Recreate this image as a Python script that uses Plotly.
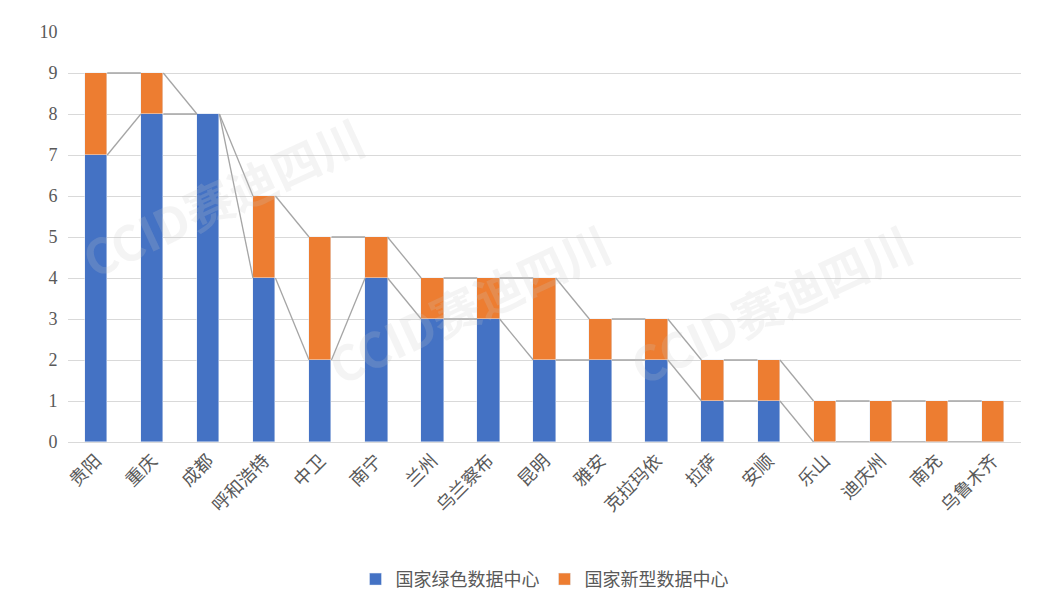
import plotly.graph_objs as go

cities = ["贵阳", "重庆", "成都", "呼和浩特", "中卫", "南宁", "兰州", "乌兰察布", "昆明",
          "雅安", "克拉玛依", "拉萨", "安顺", "乐山", "迪庆州", "南充", "乌鲁木齐"]
green = [7, 8, 8, 4, 2, 4, 3, 3, 2, 2, 2, 1, 1, 0, 0, 0, 0]
new_type = [2, 1, 0, 2, 3, 1, 1, 1, 2, 1, 1, 1, 1, 1, 1, 1, 1]

w = 0.4
xs = list(range(len(cities)))
total = [g + n for g, n in zip(green, new_type)]

data = []
# series lines between bars
for level in (green, total):
    lx, ly = [], []
    for i in range(len(cities) - 1):
        lx += [i + w / 2, i + 1 - w / 2, None]
        ly += [level[i], level[i + 1], None]
    data.append(go.Scatter(x=lx, y=ly, mode="lines", line=dict(color="#a5a5a5", width=1.3),
                           showlegend=False, hoverinfo="skip"))

data.append(go.Bar(x=xs, y=green, width=w, name="国家绿色数据中心", marker_color="#4472c4"))
data.append(go.Bar(x=xs, y=new_type, width=w, name="国家新型数据中心", marker_color="#ed7d31"))

layout = go.Layout(
    barmode="stack",
    width=1046, height=614,
    paper_bgcolor="white", plot_bgcolor="white",
    margin=dict(l=60, r=33, t=24, b=180),
    font=dict(family="Liberation Serif, Noto Sans CJK SC", size=18, color="#595959"),
    xaxis=dict(tickmode="array", tickvals=xs, ticktext=cities, tickangle=-45,
               range=[-0.5, len(cities) - 0.5], showline=True, linecolor="#d9d9d9",
               tickfont=dict(family="Noto Sans CJK SC", size=18)),
    yaxis=dict(range=[0, 10], dtick=1, gridcolor="#d9d9d9", zeroline=False, ticklen=6,
               ticks="outside", tickcolor="white"),
    legend=dict(orientation="h", x=0.5, xanchor="center", y=-0.29, yanchor="top",
                traceorder="normal", font=dict(family="Noto Sans CJK SC", size=18)),
    bargap=0,
)

fig = go.Figure(data=data, layout=layout)
for (ax, ay) in [(0.0, 0.6), (0.42, 0.1), (0.9, 0.1)]:
    fig.add_annotation(text="<b>CCID赛迪四川</b>", xref="paper", yref="paper", x=ax, y=ay,
                       showarrow=False, textangle=-25, font=dict(size=48, color="rgba(200,200,200,0.2)",
                                                                 family="Noto Sans CJK SC"))
fig.write_html("out.html")
